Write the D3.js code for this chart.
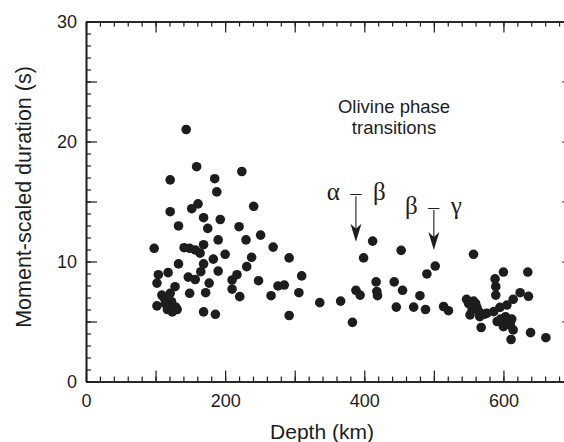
<!DOCTYPE html>
<html>
<head>
<meta charset="utf-8">
<script src="https://cdn.jsdelivr.net/npm/d3@7"></script>
<style>
  body { margin: 0; background: #fff; }
  svg { display: block; }
</style>
</head>
<body>
<div id="chart"></div>
<script>
// Depth (km) and moment-scaled duration (s)
const depth = [
  144, 159, 224, 121, 185, 188, 161, 152, 241, 121,
  169, 193, 133, 175, 220, 251, 190, 230, 98, 141,
  149, 157, 169, 164, 200, 238, 183, 133, 169, 231,
  190, 165, 118, 104, 217, 248, 147, 157, 210, 177,
  102, 210, 128, 149, 172, 221, 109, 121, 123, 102,
  114, 126, 129, 169, 186, 117, 124, 131, 112,
  269, 292, 310, 276, 285, 266, 306, 292, 336, 366,
  383, 388, 394, 399, 412, 417, 418, 419, 443, 455,
  453, 446, 471, 480, 488, 490, 502, 514, 521,
  557, 600, 635, 588, 589, 589, 624, 636, 547, 557,
  562, 552, 566, 568, 576, 586, 595, 605, 614, 591,
  600, 610, 614, 611, 639, 661, 603, 550, 555, 560,
  565, 572, 596, 606, 612
];
const duration = [
  21.0, 17.9, 17.5, 16.8, 16.9, 15.8, 14.8, 14.4, 14.6, 14.15,
  13.65, 13.5, 12.96, 12.76, 12.9, 12.2, 11.8, 11.8, 11.1, 11.15,
  11.1, 10.96, 11.4, 10.7, 10.6, 10.35, 10.2, 9.8, 9.8, 9.57,
  9.2, 9.15, 9.07, 8.9, 8.9, 8.4, 8.7, 8.5, 8.46, 8.2,
  8.2, 7.7, 7.9, 7.35, 7.4, 7.07, 7.2, 7.35, 6.65, 6.3,
  6.5, 5.96, 6.2, 5.8, 5.6, 6.0, 5.8, 6.0, 7.0,
  11.2, 10.3, 8.8, 7.96, 8.04, 7.15, 7.4, 5.5, 6.57, 6.7,
  4.93, 7.6, 7.2, 10.3, 11.7, 8.3, 7.5, 7.15, 8.3, 7.6,
  10.93, 6.2, 6.2, 7.15, 6.0, 8.96, 9.62, 6.25, 5.9,
  10.6, 9.12, 9.12, 8.55, 7.9, 7.2, 7.4, 7.1, 6.85, 6.7,
  6.15, 5.55, 5.4, 4.5, 5.68, 5.82, 6.18, 6.37, 6.85, 5.0,
  4.57, 4.7, 4.3, 3.5, 4.07, 3.65, 5.4, 6.5, 6.0, 6.5,
  5.8, 5.6, 5.2, 4.9, 5.2
];

// Olivine phase transition markers
const transitionFrom = ["α", "β"];
const transitionTo = ["β", "γ"];
const transitionDepth = [388, 500];
const transitionLabelDur = [15.1, 13.96];
const transitionTipDur = [11.65, 10.96];

const xTickLabels = [0, 200, 400, 600];
const yTickLabels = [0, 10, 20, 30];

const width = 564, height = 442;
const ink = "#1d1d1d";

const svg = d3.select("#chart").append("svg")
  .attr("width", width)
  .attr("height", height);

const x = d3.scaleLinear().domain([0, 700]).range([86, 573]);
const y = d3.scaleLinear().domain([0, 30]).range([381.5, 21.5]);

function styleAxis(g) {
  g.select(".domain").attr("stroke", ink).attr("stroke-width", 1.6);
  g.selectAll(".tick line").attr("stroke", ink).attr("stroke-width", 1.2);
  g.selectAll("text")
    .attr("fill", ink)
    .style("font-family", "'Liberation Sans', Arial, sans-serif")
    .style("font-size", "18px");
}

// minor + major ticks on all four sides, pointing inward
const xMinor = d3.range(0, 701, 20);
const xMajor = d3.range(0, 701, 100);
const yMinor = d3.range(0, 31, 1);
const yMajor = d3.range(0, 31, 5);

svg.append("g")
  .attr("transform", "translate(0," + y(0) + ")")
  .call(d3.axisBottom(x).tickValues(xMinor).tickSize(-5).tickSizeOuter(0).tickFormat(""))
  .call(styleAxis);
svg.append("g")
  .attr("transform", "translate(0," + y(0) + ")")
  .call(d3.axisBottom(x).tickValues(xMajor).tickSize(-11).tickSizeOuter(0).tickPadding(13)
    .tickFormat(d => xTickLabels.includes(d) ? d : ""))
  .call(styleAxis);

svg.append("g")
  .attr("transform", "translate(0," + y(30) + ")")
  .call(d3.axisTop(x).tickValues(xMinor).tickSize(-5).tickSizeOuter(0).tickFormat(""))
  .call(styleAxis);
svg.append("g")
  .attr("transform", "translate(0," + y(30) + ")")
  .call(d3.axisTop(x).tickValues(xMajor).tickSize(-11).tickSizeOuter(0).tickFormat(""))
  .call(styleAxis);

svg.append("g")
  .attr("transform", "translate(" + x(0) + ",0)")
  .call(d3.axisLeft(y).tickValues(yMinor).tickSize(-5).tickSizeOuter(0).tickFormat(""))
  .call(styleAxis);
svg.append("g")
  .attr("transform", "translate(" + x(0) + ",0)")
  .call(d3.axisLeft(y).tickValues(yMajor).tickSize(-11).tickSizeOuter(0).tickPadding(9)
    .tickFormat(d => yTickLabels.includes(d) ? d : ""))
  .call(styleAxis);

svg.append("g")
  .attr("transform", "translate(" + x(700) + ",0)")
  .call(d3.axisRight(y).tickValues(yMinor).tickSize(-5).tickSizeOuter(0).tickFormat(""))
  .call(styleAxis);
svg.append("g")
  .attr("transform", "translate(" + x(700) + ",0)")
  .call(d3.axisRight(y).tickValues(yMajor).tickSize(-11).tickSizeOuter(0).tickFormat(""))
  .call(styleAxis);

// points
svg.append("g")
  .selectAll("circle")
  .data(depth.map((d, i) => ({ depth: d, dur: duration[i] })))
  .enter()
  .append("circle")
  .attr("cx", d => x(d.depth))
  .attr("cy", d => y(d.dur))
  .attr("r", 4.8)
  .attr("fill", ink);

// axis titles
svg.append("text")
  .attr("x", 322)
  .attr("y", 439)
  .attr("text-anchor", "middle")
  .attr("fill", ink)
  .style("font-family", "'Liberation Sans', Arial, sans-serif")
  .style("font-size", "21px")
  .text("Depth (km)");

svg.append("text")
  .attr("transform", "translate(31,197) rotate(-90)")
  .attr("text-anchor", "middle")
  .attr("fill", ink)
  .style("font-family", "'Liberation Sans', Arial, sans-serif")
  .style("font-size", "21.5px")
  .text("Moment-scaled duration (s)");

// "Olivine phase transitions" note, two separate lines
const noteStyle = t => t
  .attr("text-anchor", "middle")
  .attr("fill", ink)
  .style("font-family", "'Liberation Sans', Arial, sans-serif")
  .style("font-size", "18.5px");
svg.append("text").attr("x", 394).attr("y", 113).call(noteStyle).text("Olivine phase");
svg.append("text").attr("x", 394).attr("y", 134).call(noteStyle).text("transitions");

// transition arrows with greek labels
transitionDepth.forEach((dp, i) => {
  const ax = x(dp);
  const base = y(transitionLabelDur[i]);
  const tip = y(transitionTipDur[i]);
  const g = svg.append("g");
  const serif = "'Liberation Serif', 'Times New Roman', serif";

  g.append("text")
    .attr("x", ax - 16).attr("y", base)
    .attr("text-anchor", "end")
    .attr("fill", ink)
    .style("font-family", serif).style("font-size", "25px")
    .text(transitionFrom[i]);
  g.append("text")
    .attr("x", ax).attr("y", base)
    .attr("text-anchor", "middle")
    .attr("fill", ink)
    .style("font-family", serif).style("font-size", "22px")
    .text("–");
  g.append("text")
    .attr("x", ax + 17).attr("y", base)
    .attr("text-anchor", "start")
    .attr("fill", ink)
    .style("font-family", serif).style("font-size", "25px")
    .text(transitionTo[i]);

  g.append("line")
    .attr("x1", ax).attr("x2", ax)
    .attr("y1", base - 4).attr("y2", tip - 8)
    .attr("stroke", ink)
    .attr("stroke-width", 1.1);
  g.append("path")
    .attr("d", `M${ax},${tip} L${ax - 5.5},${tip - 18} L${ax},${tip - 13} L${ax + 5.5},${tip - 18} Z`)
    .attr("fill", ink);
});
</script>
</body>
</html>
